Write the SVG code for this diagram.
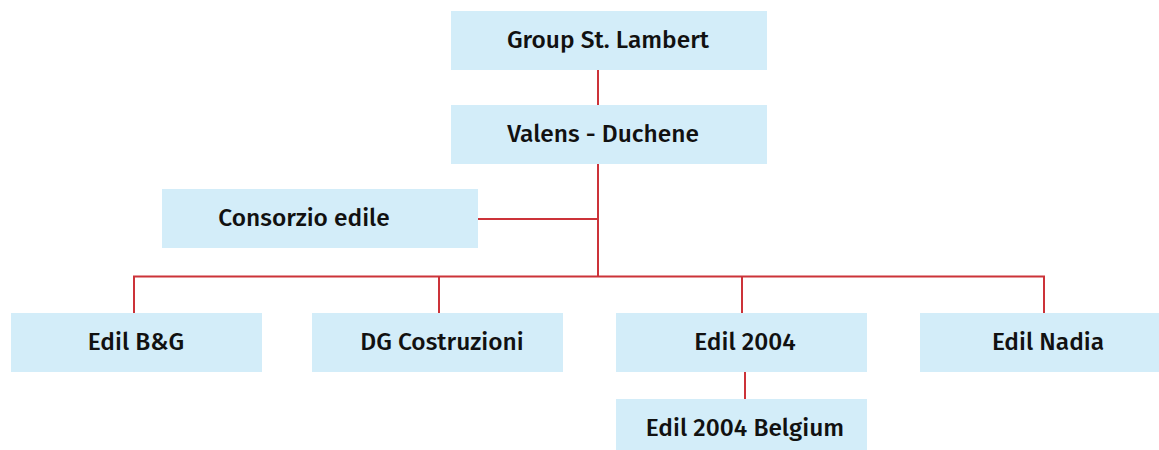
<svg xmlns="http://www.w3.org/2000/svg" width="1159" height="450" viewBox="0 0 1159 450">
<style>
.box{fill:#d3edf9}
.lbl{font-family:"Fira Sans","Open Sans","Noto Sans",sans-serif;font-weight:500;font-size:24.5px;fill:#111;text-anchor:middle}
.ln{stroke:#cc3339;stroke-width:2;fill:none}
</style>
<rect width="1159" height="450" fill="#fff"/>
<g id="connectors">
<path class="ln" d="M598 70V105"/>
<path class="ln" d="M598 164V277"/>
<path class="ln" d="M478 219H598"/>
<path class="ln" d="M134 313V276.5H1044V313"/>
<path class="ln" d="M439 276.5V313"/>
<path class="ln" d="M742 276.5V313"/>
<path class="ln" d="M745 372V399"/>
</g>
<g id="n-group"><rect class="box" x="451" y="11" width="316" height="59"/><text class="lbl" x="608" y="47.5">Group St. Lambert</text></g>
<g id="n-valens"><rect class="box" x="451" y="105" width="316" height="59"/><text class="lbl" x="603" y="141.5">Valens - Duchene</text></g>
<g id="n-consorzio"><rect class="box" x="162" y="189" width="316" height="59"/><text class="lbl" x="304" y="225.5">Consorzio edile</text></g>
<g id="n-edilbg"><rect class="box" x="11" y="313" width="251" height="59"/><text class="lbl" x="136" y="349.5">Edil B&amp;G</text></g>
<g id="n-dg"><rect class="box" x="312" y="313" width="251" height="59"/><text class="lbl" x="442" y="349.5">DG Costruzioni</text></g>
<g id="n-edil2004"><rect class="box" x="616" y="313" width="251" height="59"/><text class="lbl" x="745" y="349.5">Edil 2004</text></g>
<g id="n-nadia"><rect class="box" x="920" y="313" width="251" height="59"/><text class="lbl" x="1048" y="349.5">Edil Nadia</text></g>
<g id="n-belgium"><rect class="box" x="616" y="399" width="251" height="59"/><text class="lbl" x="745" y="435.5">Edil 2004 Belgium</text></g>
</svg>
